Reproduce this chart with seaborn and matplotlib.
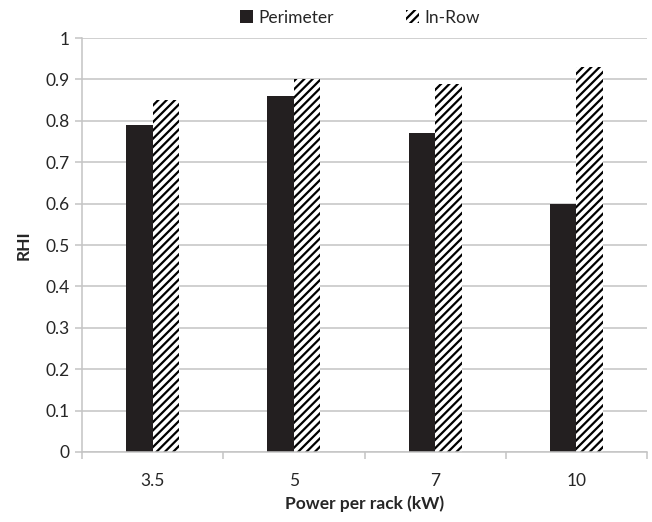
import matplotlib
matplotlib.use("Agg")
import matplotlib.pyplot as plt
from matplotlib.patches import Patch
from matplotlib.ticker import FixedLocator, FuncFormatter
import seaborn as sns
import pandas as pd

# Room-level RHI for two cooling layouts
power_labels = ["3.5", "5", "7", "10"]
perimeter = [0.79, 0.86, 0.77, 0.60]
in_row = [0.85, 0.90, 0.89, 0.93]
series_names = ["Perimeter", "In-Row"]
y_ticks = [0, 0.1, 0.2, 0.3, 0.4, 0.5, 0.6, 0.7, 0.8, 0.9, 1]

df = pd.DataFrame({
    "power": power_labels * 2,
    "rhi": perimeter + in_row,
    "layout": [series_names[0]] * 4 + [series_names[1]] * 4,
})

sns.set_theme(style="white")
plt.rcParams["font.family"] = ["Lato", "DejaVu Sans"]
plt.rcParams["hatch.linewidth"] = 1.6

grid_c = "#C4C4C4"
text_c = "#262626"
dark = "#231F20"
fs = 12.5

fig = plt.figure(figsize=(6.52, 5.22), dpi=100)
ax = fig.add_axes([0.1258, 0.1341, 0.8665, 0.7931])

sns.barplot(data=df, x="power", y="rhi", hue="layout", order=power_labels,
            hue_order=series_names, palette=[dark, "white"], width=0.375,
            saturation=1, edgecolor=dark, linewidth=0, legend=False, ax=ax)

for bar in ax.containers[1]:
    bar.set_hatch("////")
    bar.set_edgecolor("black")
    bar.set_linewidth(0)

ax.set_xlim(-0.5, len(power_labels) - 0.5)
ax.set_ylim(0, 1)
ax.yaxis.set_major_locator(FixedLocator(y_ticks))
ax.yaxis.set_major_formatter(FuncFormatter(lambda v, _: f"{v:g}"))
ax.grid(axis="y", color=grid_c, linewidth=1.1)
ax.set_axisbelow(True)

for side in ["top", "right"]:
    ax.spines[side].set_visible(False)
for side in ["left", "bottom"]:
    ax.spines[side].set_color(grid_c)
    ax.spines[side].set_linewidth(1.1)

ax.tick_params(axis="y", which="major", left=True, length=5, width=1.1,
               color=grid_c, labelsize=fs, labelcolor=text_c, pad=4)
ax.tick_params(axis="x", which="major", bottom=False, labelsize=fs,
               labelcolor=text_c, pad=9)
ax.xaxis.set_minor_locator(FixedLocator([i - 0.5 for i in range(len(power_labels) + 1)]))
ax.tick_params(axis="x", which="minor", bottom=True, length=5, width=1.1,
               color=grid_c)

ax.set_xlabel("Power per rack (kW)", fontsize=fs, fontweight="bold",
              color=text_c, labelpad=5)
ax.set_ylabel("RHI", fontsize=fs, fontweight="bold", color=text_c, labelpad=10)

handles = [
    Patch(facecolor=dark, edgecolor=dark, linewidth=0, label=series_names[0]),
    Patch(facecolor="white", edgecolor="black", hatch="////", linewidth=0,
          label=series_names[1]),
]
fig.legend(handles=handles, loc="center", bbox_to_anchor=(0.552, 0.966),
           ncol=2, frameon=False, fontsize=fs, handlelength=0.75,
           handleheight=0.75, handletextpad=0.3, columnspacing=4.2,
           labelcolor=text_c)

fig.savefig("out.png", dpi=100, facecolor="white")
